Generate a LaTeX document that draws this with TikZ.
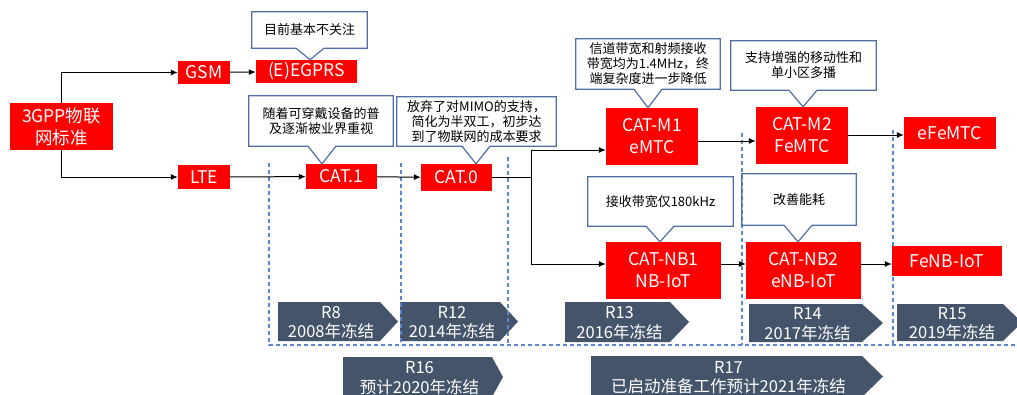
\documentclass[tikz,border=0pt]{standalone}
\usepackage{fontspec}
\setmainfont{Noto Sans CJK SC}
\usetikzlibrary{arrows.meta}
\definecolor{boxred}{RGB}{255,0,0}
\definecolor{calloutline}{RGB}{79,110,165}
\definecolor{relfill}{RGB}{68,84,106}
\definecolor{dashblue}{RGB}{90,135,205}
\tikzset{
 redbox/.style={fill=boxred, text=white, font=\fontsize{17.5}{22}\selectfont, align=center, inner sep=0pt},
 arr/.style={draw=black, line width=1pt, -{Latex[length=7pt,width=6pt]}},
 conn/.style={draw=black, line width=1pt},
 calltext/.style={font=\fontsize{13}{15}\selectfont, align=center, inner sep=0pt, text=black},
 callline/.style={draw=calloutline, line width=1.2pt, line join=miter},
 reltext/.style={text=white, font=\fontsize{16.5}{19.5}\selectfont, align=center, inner sep=0pt},
 relshape/.style={fill=relfill},
 dashln/.style={draw=dashblue, line width=1.1pt, dash pattern=on 4pt off 3pt},
}
% callout outline: #1 callout node, #2 target node, #3 x offset of pointer
\newcommand\calloutptr[3]{%
 \draw[callline] (#1.north west) -- (#1.north east) -- (#1.south east)
  -- ([xshift=#3+14pt]#2.north |- #1.south) -- ([xshift=#3]#2.north)
  -- ([xshift=#3-14pt]#2.north |- #1.south) -- (#1.south west) -- cycle;}
% release arrow: #1 name, #2 x1, #3 y1, #4 rect end x, #5 y2, #6 tip x, #7 text
\newcommand\relarrow[7]{%
 \fill[relshape] (#2,#3) -- (#4,#3) -- (#6,{(#3+#5)/2}) -- (#4,#5) -- (#2,#5) -- cycle;
 \node[reltext] (#1) at ({(#2+#4)/2+2},{(#3+#5)/2+1}) {#7};}
\begin{document}
\begin{tikzpicture}[x=1pt,y=-1pt]
\useasboundingbox (0,0) rectangle (1017,394);

% release arrows
\relarrow{r8}{278}{302}{380}{341}{398}{R8\\2008年冻结}
\relarrow{r12}{400}{302}{500}{341}{518}{R12\\2014年冻结}
\relarrow{r13}{565}{302}{670}{342}{689}{R13\\2016年冻结}
\relarrow{r14}{749}{304}{862}{342}{883}{R14\\2017年冻结}
\relarrow{r15}{897}{304}{1003}{341}{1022}{R15\\2019年冻结}
\relarrow{r16}{343}{357}{492}{397}{503}{R16\\预计2020年冻结}
\relarrow{r17}{591}{356}{862}{397}{883}{R17\\已启动准备工作预计2021年冻结}

% dashed frame lines
\draw[dashln] (269,163) -- (269,345) -- (1017,345);
\draw[dashln] (401,163) -- (401,345);
\draw[dashln] (508,157) -- (508,345);
\draw[dashln] (742,133) -- (742,345);
\draw[dashln] (893,130) -- (893,345);

% red boxes
\node[redbox, minimum width=103pt, minimum height=47pt] (gpp) at (61.5,126.5) {3GPP物联\\网标准};
\node[redbox, minimum width=52pt, minimum height=23pt] (gsm) at (204,72.5) {GSM};
\node[redbox, minimum width=101pt, minimum height=23pt] (egprs) at (306.5,71.5) {(E)EGPRS};
\node[redbox, minimum width=52pt, minimum height=24pt] (lte) at (204,177) {LTE};
\node[redbox, minimum width=71pt, minimum height=25pt] (cat1) at (341.5,176.5) {CAT.1};
\node[redbox, minimum width=71pt, minimum height=27pt] (cat0) at (456.5,177.5) {CAT.0};
\node[redbox, minimum width=92pt, minimum height=57pt] (catm1) at (652,136.5) {CAT-M1\\eMTC};
\node[redbox, minimum width=92pt, minimum height=57pt] (catm2) at (802,135.5) {CAT-M2\\FeMTC};
\node[redbox, minimum width=92pt, minimum height=32pt] (efemtc) at (950,133) {eFeMTC};
\node[redbox, minimum width=115pt, minimum height=57pt] (catnb1) at (663.5,270.5) {CAT-NB1\\NB-IoT};
\node[redbox, minimum width=115pt, minimum height=57pt] (catnb2) at (803.5,270.5) {CAT-NB2\\eNB-IoT};
\node[redbox, minimum width=110pt, minimum height=30pt] (fenbiot) at (947,261) {FeNB-IoT};

% connectors
\draw[arr] (gpp.north) |- (gsm.west);
\draw[arr] (gpp.south) |- (lte.west);
\draw[arr] (gsm) -- (egprs);
\draw[arr] (lte) -- (cat1);
\draw[arr] (cat1) -- (cat0);
\coordinate (jm) at (531,177.5);
\draw[conn] (cat0.east) -- (jm);
\draw[arr] (jm) |- (catm1.west |- 0,150);
\draw[arr] (jm) |- (catnb1.west |- 0,264);
\draw[arr] (catm1.east |- 0,141) -- (catm2.west |- 0,141);
\draw[arr] (catm2.east |- 0,135) -- (efemtc.west |- 0,135);
\draw[arr] (catnb1.east |- 0,264) -- (catnb2.west |- 0,264);
\draw[arr] (catnb2.east |- 0,264) -- (fenbiot.west |- 0,264);

% callouts
\node[calltext, minimum width=115pt, minimum height=36pt] (c1) at (309.5,30) {目前基本不关注};
\calloutptr{c1}{egprs}{3.5pt}
\node[calltext, minimum width=144pt, minimum height=50pt] (c2) at (321,121) {随着可穿戴设备的普\\及逐渐被业界重视};
\calloutptr{c2}{cat1}{-19.5pt}
\node[calltext, minimum width=159pt, minimum height=49pt] (c3) at (476.5,121.5) {放弃了对MIMO的支持，\\简化为半双工，初步达\\到了物联网的成本要求};
\calloutptr{c3}{cat0}{19.5pt}
\node[calltext, minimum width=144pt, minimum height=50pt] (c4) at (648,64) {信道带宽和射频接收\\带宽均为1.4MHz，终\\端复杂度进一步降低};
\calloutptr{c4}{catm1}{-4pt}
\node[calltext, minimum width=145pt, minimum height=49pt] (c5) at (803.5,65.5) {支持增强的移动性和\\单小区多播};
\calloutptr{c5}{catm2}{1pt}
\node[calltext, minimum width=145pt, minimum height=49pt] (c6) at (660.5,201.5) {接收带宽仅180kHz};
\calloutptr{c6}{catnb1}{-3.5pt}
\node[calltext, minimum width=114pt, minimum height=51pt] (c7) at (799,199.5) {改善能耗};
\calloutptr{c7}{catnb2}{-5.5pt}
\end{tikzpicture}
\end{document}
